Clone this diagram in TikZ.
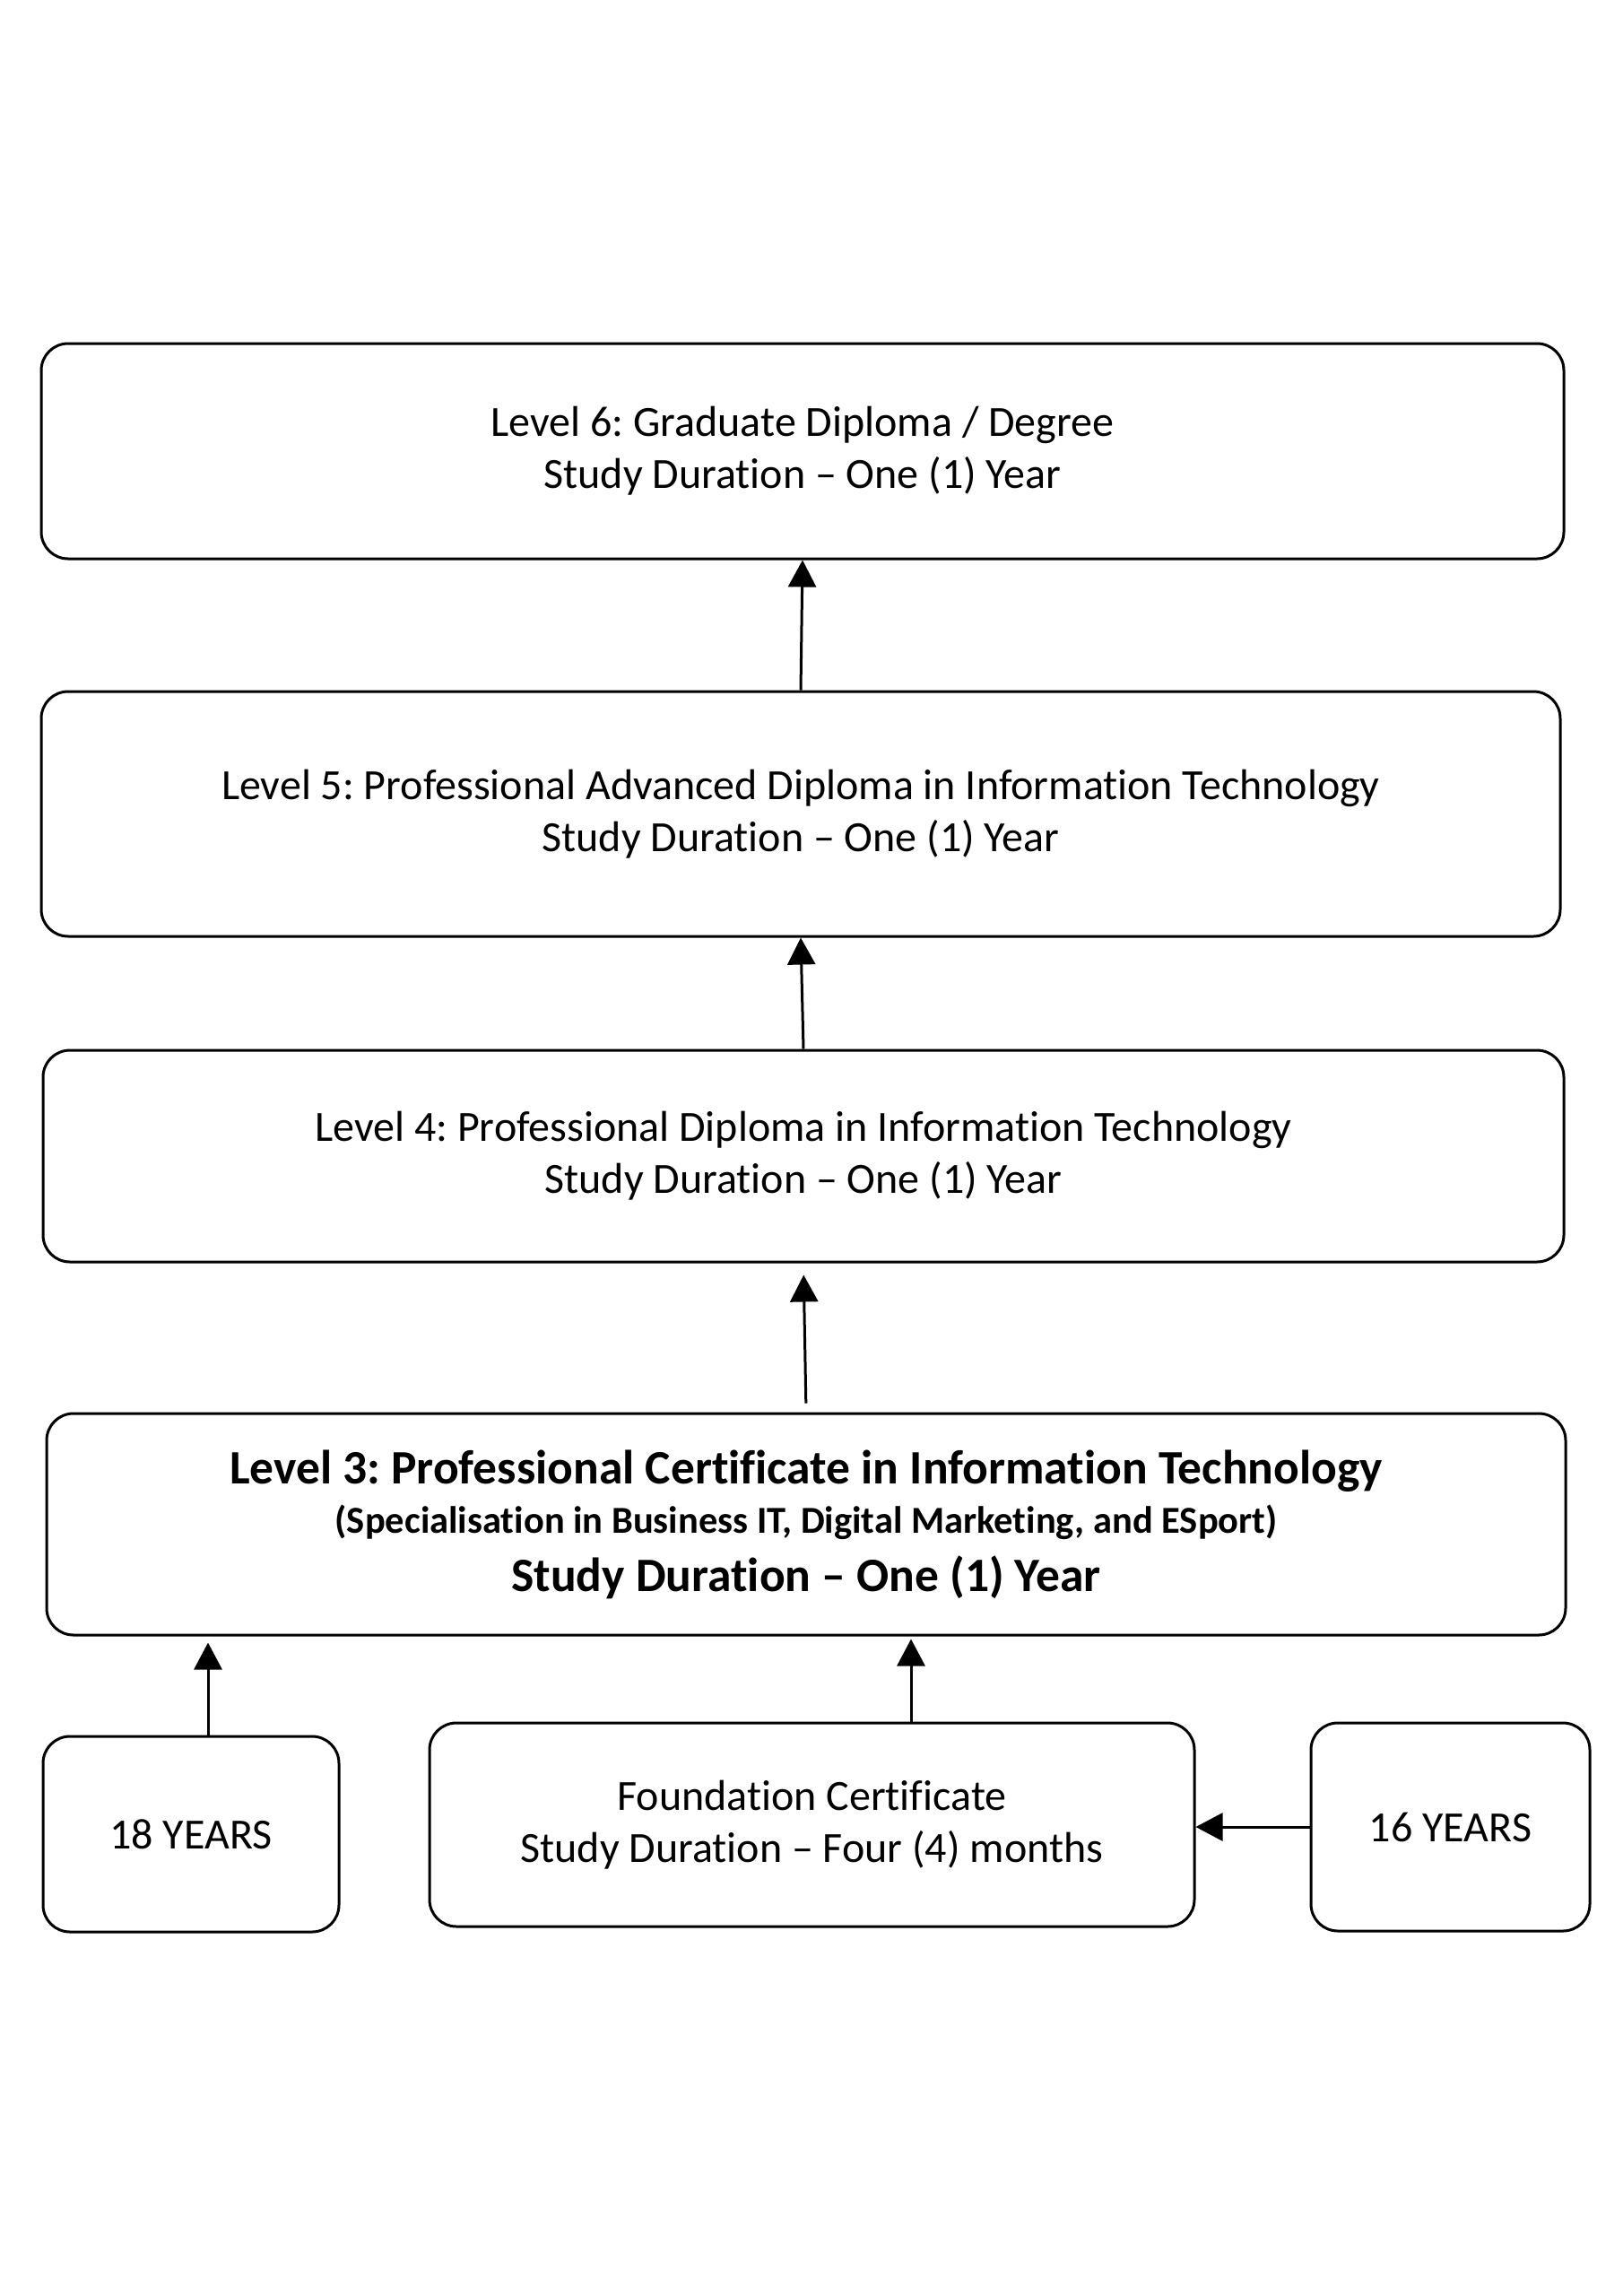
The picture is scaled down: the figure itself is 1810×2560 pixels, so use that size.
\documentclass[tikz,border=0pt]{standalone}
\usepackage{fontspec}
\setmainfont{Carlito}[Ligatures={TeX,NoCommon}]
\usetikzlibrary{arrows.meta}
\frenchspacing
\begin{document}
\begin{tikzpicture}[x=1pt,y=-1pt,
  box/.style={draw=black, line width=3pt, rounded corners=30pt, inner sep=0pt, align=center,
    font=\frenchspacing\fontsize{48}{58}\selectfont},
  arr/.style={draw=black, line width=3pt, -{Triangle[length=30pt,width=31pt]}}]
\useasboundingbox[fill=white] (0,0) rectangle (1810,2560);

\node[box, minimum width=1698pt, minimum height=240pt] (l6) at (895,503)
  {Level 6: Graduate Diploma / Degree\\Study Duration – One (1) Year};
\node[box, minimum width=1694pt, minimum height=273pt] (l5) at (893,907.5)
  {Level 5: Professional Advanced Diploma in Information Technology\\Study Duration – One (1) Year};
\node[box, minimum width=1696pt, minimum height=236pt] (l4) at (896,1289)
  {Level 4: Professional Diploma in Information Technology\\Study Duration – One (1) Year};
\node[box, minimum width=1694pt, minimum height=247pt, font=\frenchspacing\fontsize{53.5}{55}\selectfont\bfseries] (l3) at (899,1699.5)
  {Level 3: Professional Certificate in Information Technology\\
   {\fontsize{42.5}{55}\selectfont (Specialisation in Business IT, Digital Marketing, and ESport)}\\[10pt]
   Study Duration – One (1) Year};
\node[box, minimum width=330pt, minimum height=218pt] (y18) at (213,2045) {18 YEARS};
\node[box, minimum width=853pt, minimum height=227pt] (fc) at (905.5,2034.5)
  {Foundation Certificate\\Study Duration – Four (4) months};
\node[box, minimum width=311pt, minimum height=232pt] (y16) at (1617.5,2037) {16 YEARS};

\draw[arr] (l5.north) -- (l6.south);
\draw[arr] (l4.north) -- (l5.south);
\draw[arr, shorten <=10pt, shorten >=13pt] (l3.north) -- (l4.south);
\draw[arr, shorten >=7pt] ([xshift=19pt]y18.north) -- ([xshift=19pt]y18.north |- l3.south);
\draw[arr, shorten >=3pt] ([xshift=110.5pt]fc.north) -- ([xshift=110.5pt]fc.north |- l3.south);
\draw[arr] (y16.west) -- (y16.west -| fc.east);
\end{tikzpicture}
\end{document}
